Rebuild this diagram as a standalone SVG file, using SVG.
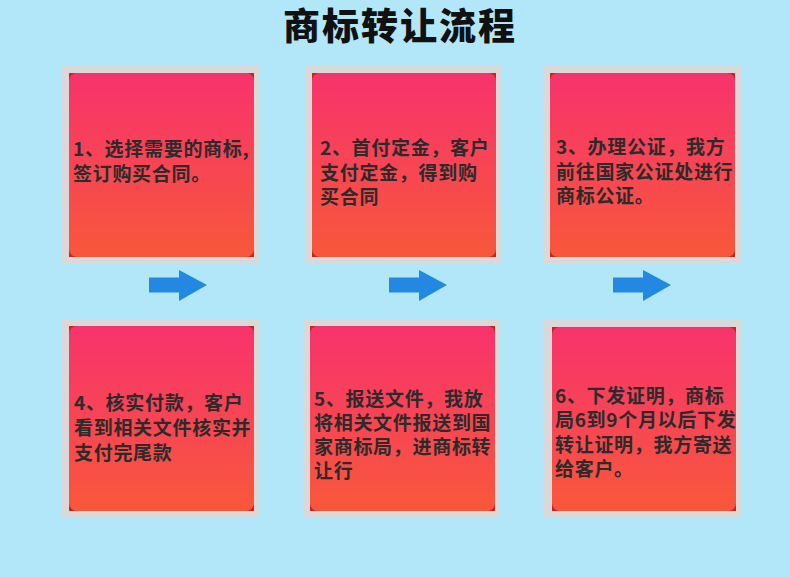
<svg xmlns="http://www.w3.org/2000/svg" width="790" height="577" viewBox="0 0 790 577">
<defs>
<linearGradient id="g" x1="0" y1="0" x2="0" y2="1">
<stop offset="0" stop-color="#f7336c"/>
<stop offset="1" stop-color="#f8573b"/>
</linearGradient>
<g id="arrow"><path d="M0,-7.5 H30 V-15 L58,0 L30,16 V7.5 H0 Z" fill="#2388e1"/></g>
</defs>
<style>
.frame{fill:#d9d9d9}
.corner{fill:#d41e1e}
.card{fill:url(#g)}
.t{font-family:"Noto Sans CJK SC","Noto Sans",sans-serif;font-weight:bold;font-size:19px;letter-spacing:0.7px;fill:#2b2b2b}
.title{font-family:"Noto Sans CJK SC","Noto Sans",sans-serif;font-weight:900;font-size:37px;letter-spacing:2px;fill:#111}
</style>
<rect width="790" height="577" fill="#b2e6f9"/>
<text class="title" x="283" y="40">商标转让流程</text>

<g id="node1">
<rect class="frame" x="62" y="66" width="198" height="197"/>
<rect class="corner" x="69" y="73" width="185" height="184"/>
<rect class="card" x="69" y="73" width="185" height="184" rx="8"/>
<text class="t"><tspan x="73" y="155.5">1、选择需要的商标,</tspan><tspan x="73" y="180.5">签订购买合同。</tspan></text>
</g>
<g id="node2">
<rect class="frame" x="305" y="66" width="197" height="197"/>
<rect class="corner" x="312" y="73" width="184" height="184"/>
<rect class="card" x="312" y="73" width="184" height="184" rx="8"/>
<text class="t"><tspan x="320" y="155">2、首付定金，客户</tspan><tspan x="320" y="179.5">支付定金，得到购</tspan><tspan x="320" y="204">买合同</tspan></text>
</g>
<g id="node3">
<rect class="frame" x="544" y="66" width="197" height="197"/>
<rect class="corner" x="550" y="73" width="185" height="184"/>
<rect class="card" x="550" y="73" width="185" height="184" rx="8"/>
<text class="t"><tspan x="556" y="154">3、办理公证，我方</tspan><tspan x="556" y="178.5">前往国家公证处进行</tspan><tspan x="556" y="203">商标公证。</tspan></text>
</g>
<g id="node4">
<rect class="frame" x="62" y="319" width="198" height="198"/>
<rect class="corner" x="69" y="326" width="185" height="185"/>
<rect class="card" x="69" y="326" width="185" height="185" rx="8"/>
<text class="t"><tspan x="74" y="410">4、核实付款，客户</tspan><tspan x="74" y="435">看到相关文件核实并</tspan><tspan x="74" y="460">支付完尾款</tspan></text>
</g>
<g id="node5">
<rect class="frame" x="303" y="319" width="197" height="198"/>
<rect class="corner" x="310" y="326" width="185" height="185"/>
<rect class="card" x="310" y="326" width="185" height="185" rx="8"/>
<text class="t"><tspan x="314" y="405.5">5、报送文件，我放</tspan><tspan x="314" y="429.5">将相关文件报送到国</tspan><tspan x="314" y="453.5">家商标局，进商标转</tspan><tspan x="314" y="477.5">让行</tspan></text>
</g>
<g id="node6">
<rect class="frame" x="544" y="319" width="198" height="198"/>
<rect class="corner" x="552" y="327" width="184" height="184"/>
<rect class="card" x="552" y="327" width="184" height="184" rx="8"/>
<text class="t"><tspan x="555" y="402.5">6、下发证明，商标</tspan><tspan x="555" y="427">局6到9个月以后下发</tspan><tspan x="555" y="451.5">转让证明，我方寄送</tspan><tspan x="555" y="476">给客户。</tspan></text>
</g>

<g id="connectors">
<use href="#arrow" x="149" y="285"/>
<use href="#arrow" x="389" y="285"/>
<use href="#arrow" x="613" y="285"/>
</g>
</svg>
